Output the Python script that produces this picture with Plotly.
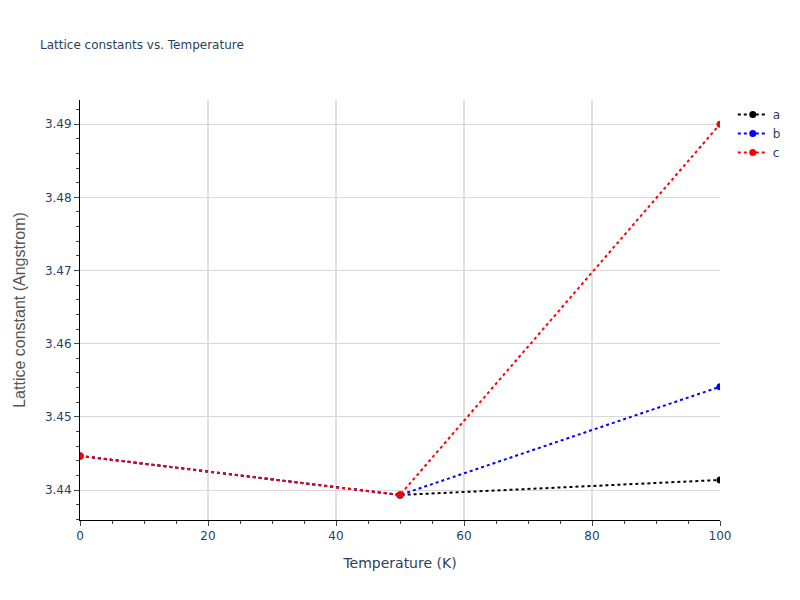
import plotly.graph_objects as go

temperature = [0, 50, 100]
lattice_a = [3.44466, 3.43932, 3.44137]
lattice_b = [3.44466, 3.43932, 3.45411]
lattice_c = [3.44466, 3.43932, 3.49000]

series = [("a", lattice_a, "black"), ("b", lattice_b, "blue"), ("c", lattice_c, "red")]

fig = go.Figure()
for name, vals, col in series:
    fig.add_trace(go.Scatter(x=temperature, y=vals, name=name, mode="lines+markers",
                             line=dict(color=col, dash="dot", width=2),
                             marker=dict(color=col, size=7)))

# page body has an 8px margin, so shift the figure back by that much
fig.update_layout(
    width=800, height=600,
    font=dict(family="DejaVu Sans", size=12),
    title=dict(text="Lattice constants vs. Temperature", x=0.04, y=0.945, font=dict(size=12)),
    plot_bgcolor="white",
    paper_bgcolor="white",
    margin=dict(l=72, r=88, t=92, b=88),
)
fig.update_xaxes(title=dict(text="Temperature (K)", font=dict(size=14)), range=[0, 100],
                 showline=True, linecolor="black",
                 ticks="outside", gridcolor="#e0e0e0", gridwidth=2, zeroline=False,
                 minor=dict(ticks="outside", dtick=5, showgrid=False))
fig.update_yaxes(title=dict(text="Lattice constant (Angstrom)",
                            font=dict(family="Liberation Sans", size=16, color="#555")),
                 range=[3.4359, 3.4933], showline=True,
                 linecolor="black", ticks="outside", gridcolor="#d8d8d8", zeroline=False,
                 dtick=0.01, minor=dict(ticks="outside", dtick=0.002, showgrid=False))

fig.write_html("out.html")
